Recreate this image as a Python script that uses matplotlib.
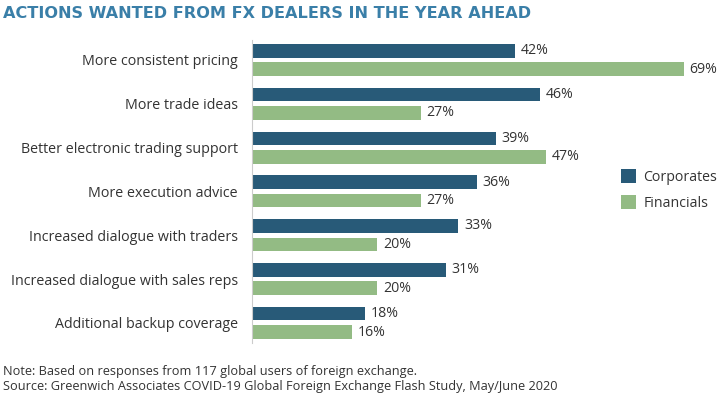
import matplotlib.pyplot as plt
import numpy as np

plt.rcParams['font.family'] = 'Open Sans'

categories = ['More consistent pricing', 'More trade ideas', 'Better electronic trading support',
              'More execution advice', 'Increased dialogue with traders',
              'Increased dialogue with sales reps', 'Additional backup coverage']
corporates = [42, 46, 39, 36, 33, 31, 18]
financials = [69, 27, 47, 27, 20, 20, 16]

c_corp = '#285a78'
c_fin = '#93bb84'
text_c = '#333333'

fig = plt.figure(figsize=(7.2, 3.95), dpi=100)
ax = fig.add_axes([0.35, 0.132, 0.65, 0.767])

y = np.arange(len(categories))
h = 0.31
off = 0.21
ax.barh(y - off, corporates, height=h, color=c_corp, label='Corporates')
ax.barh(y + off, financials, height=h, color=c_fin, label='Financials')

for i in range(len(categories)):
    ax.text(corporates[i] + 0.9, y[i] - off, f'{corporates[i]}%', va='center', ha='left',
            fontsize=10.2, color=text_c)
    ax.text(financials[i] + 0.9, y[i] + off, f'{financials[i]}%', va='center', ha='left',
            fontsize=10.2, color=text_c)

ax.set_xlim(0, 74.8)
ax.set_ylim(6.457, -0.457)
ax.set_yticks(y)
ax.set_yticklabels(categories, fontsize=10.3, color=text_c)
ax.tick_params(axis='y', length=0, pad=10)
ax.set_xticks([])
for s in ['top', 'right', 'bottom']:
    ax.spines[s].set_visible(False)
ax.spines['left'].set_color('#cccccc')

fig.legend(loc='center left', bbox_to_anchor=(0.862, 0.519), frameon=False, fontsize=10.2,
           handlelength=1.1, handleheight=1.1, handletextpad=0.5, labelcolor=text_c,
           labelspacing=0.75, borderaxespad=0, borderpad=0)

fig.text(0.004, 0.965, 'ACTIONS WANTED FROM FX DEALERS IN THE YEAR AHEAD', fontsize=11.6,
         color='#3a7fa8', fontweight='bold', family='DejaVu Sans', va='center')
fig.text(0.004, 0.06, 'Note: Based on responses from 117 global users of foreign exchange.',
         fontsize=9.2, color=text_c, va='center')
fig.text(0.004, 0.022, 'Source: Greenwich Associates COVID-19 Global Foreign Exchange Flash Study, May/June 2020',
         fontsize=9.2, color=text_c, va='center')

fig.savefig('out.png', dpi=100)
